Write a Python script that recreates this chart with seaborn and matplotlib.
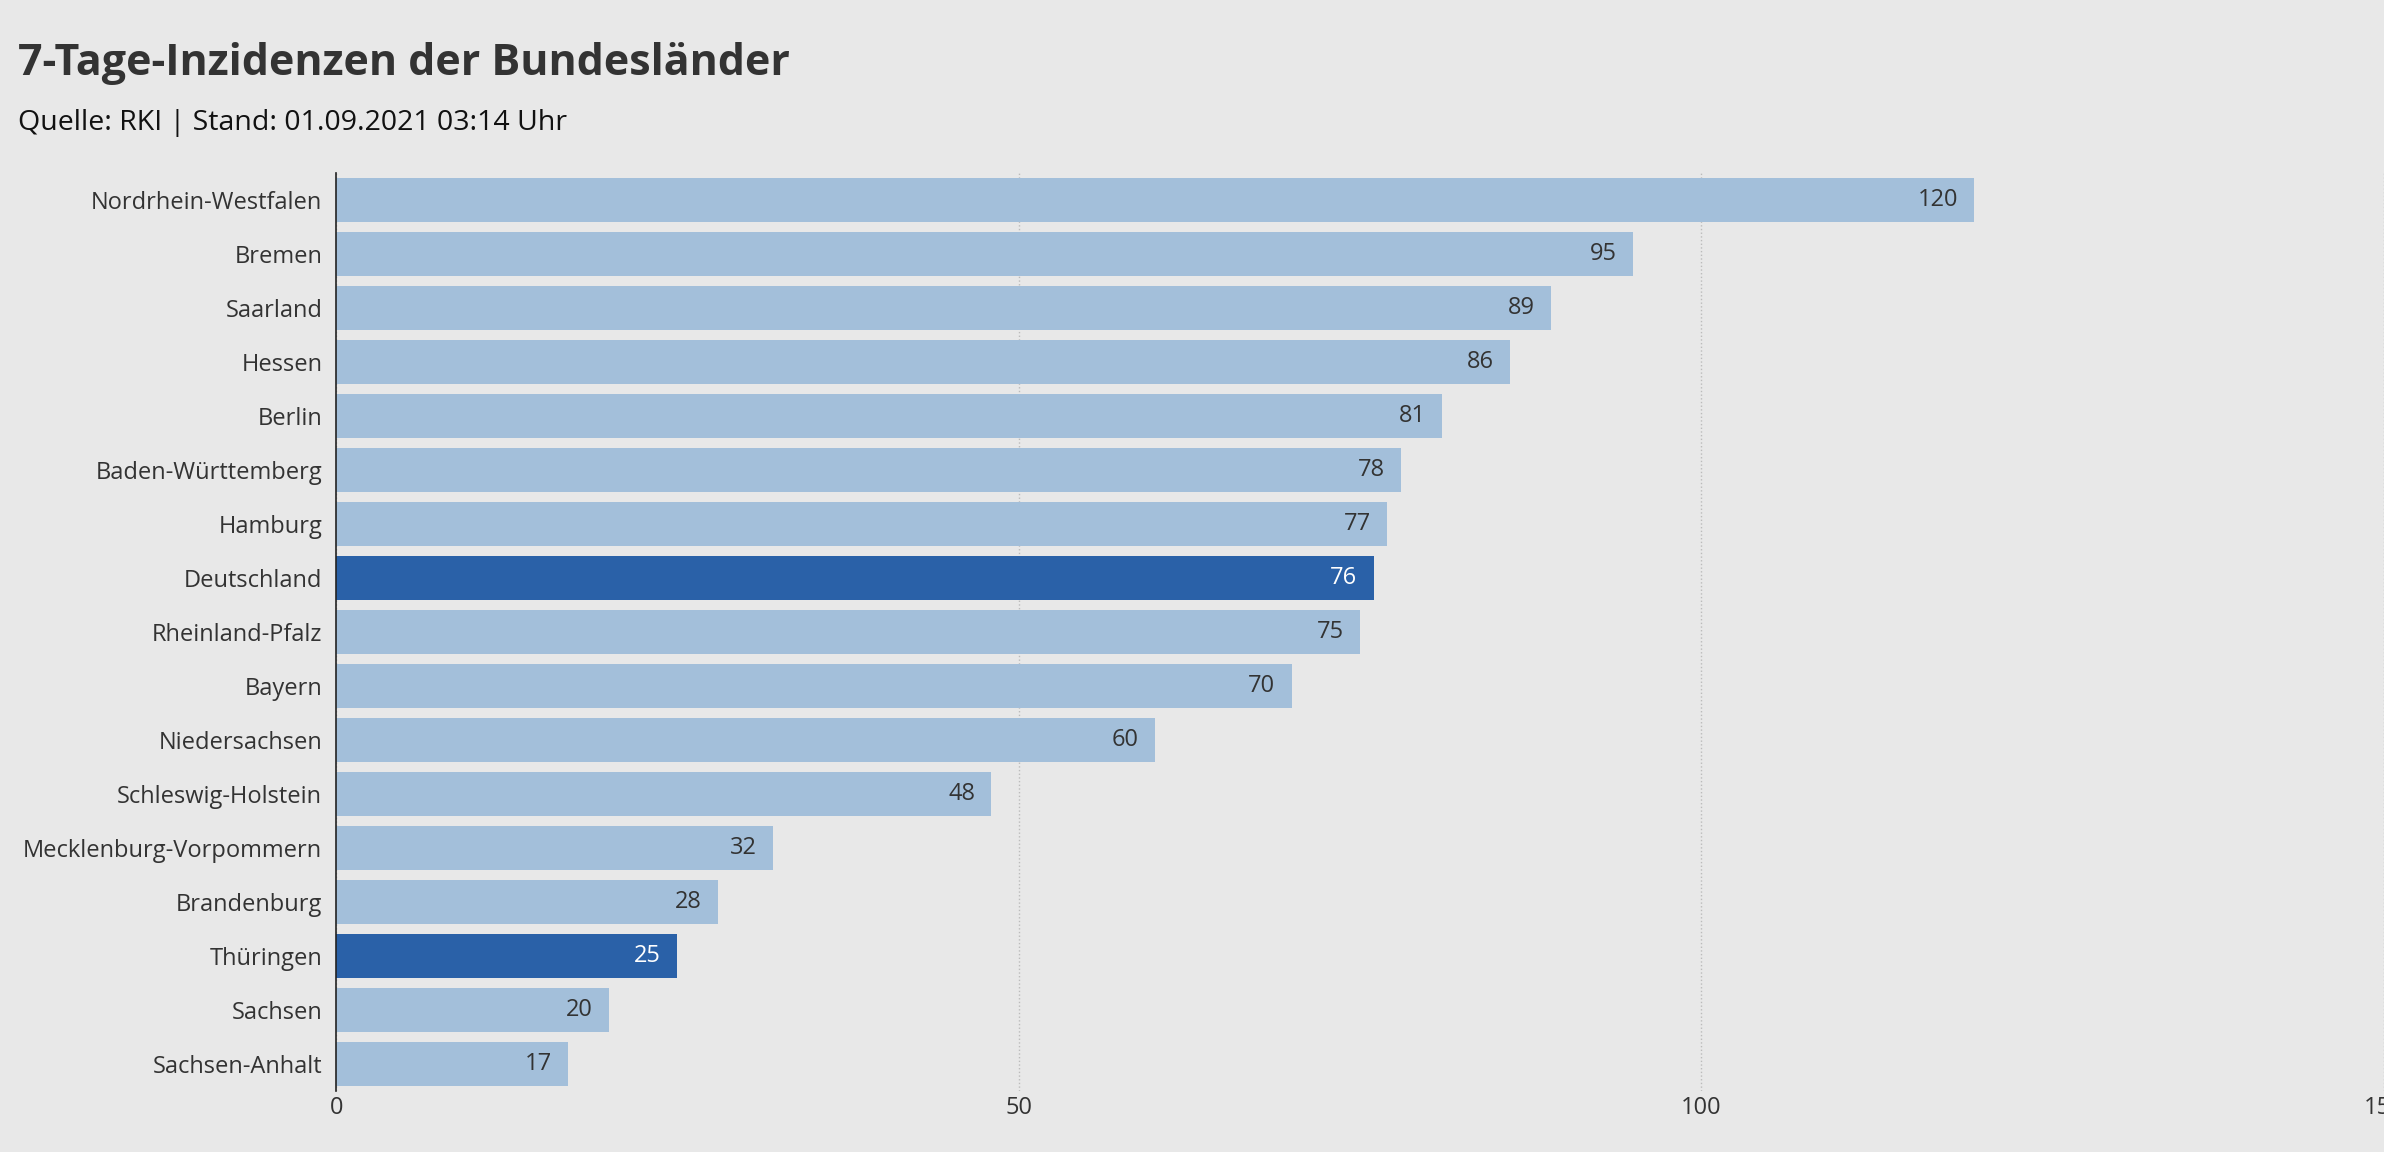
import matplotlib
matplotlib.use("Agg")
import matplotlib.pyplot as plt
import seaborn as sns
import pandas as pd

# values
states = ["Nordrhein-Westfalen", "Bremen", "Saarland", "Hessen", "Berlin",
          "Baden-Württemberg", "Hamburg", "Deutschland", "Rheinland-Pfalz",
          "Bayern", "Niedersachsen", "Schleswig-Holstein",
          "Mecklenburg-Vorpommern", "Brandenburg", "Thüringen", "Sachsen",
          "Sachsen-Anhalt"]
incidence = [120, 95, 89, 86, 81, 78, 77, 76, 75, 70, 60, 48, 32, 28, 25, 20, 17]
highlight = ["Deutschland", "Thüringen"]

bg = "#e8e8e8"
light = "#a3bfda"
dark = "#2a61a8"

df = pd.DataFrame({"state": states, "value": incidence})
palette = {s: (dark if s in highlight else light) for s in states}

sns.set_theme(style="white")
plt.rcParams["font.family"] = ["Open Sans", "DejaVu Sans"]

fig = plt.figure(figsize=(23.84, 11.52), dpi=100, facecolor=bg)
ax = fig.add_axes([0.141, 0.053, 0.859, 0.797], facecolor=bg)

sns.barplot(data=df, y="state", x="value", hue="state", palette=palette,
            order=states, width=0.82, legend=False, ax=ax, saturation=1,
            linewidth=0)

for i, (s, v) in enumerate(zip(states, incidence)):
    ax.text(v - 1.2, i, str(v), ha="right", va="center", fontsize=17,
            color="white" if s in highlight else "#333333")

ax.set_xlim(0, 145)
ax.set_xticks([0, 50, 100, 150])
ax.set_xticklabels(["0", "50", "100", "150"])
ax.xaxis.grid(True, linestyle=":", color="#bbbbbb", linewidth=1)
ax.set_axisbelow(True)
ax.set_xlabel("")
ax.set_ylabel("")
ax.tick_params(axis="both", labelsize=17, colors="#333333", length=0)
ax.tick_params(axis="y", pad=10)
for side in ["top", "right", "bottom"]:
    ax.spines[side].set_visible(False)
ax.spines["left"].set_color("#222222")
ax.spines["left"].set_linewidth(1.2)

fig.text(0.0077, 0.945, "7-Tage-Inzidenzen der Bundesländer", fontsize=31,
         fontweight="bold", color="#333333", va="center")
fig.text(0.0077, 0.893, "Quelle: RKI | Stand: 01.09.2021 03:14 Uhr",
         fontsize=20.5, color="#111111", va="center")

fig.savefig("out.png", dpi=100, facecolor=bg)
